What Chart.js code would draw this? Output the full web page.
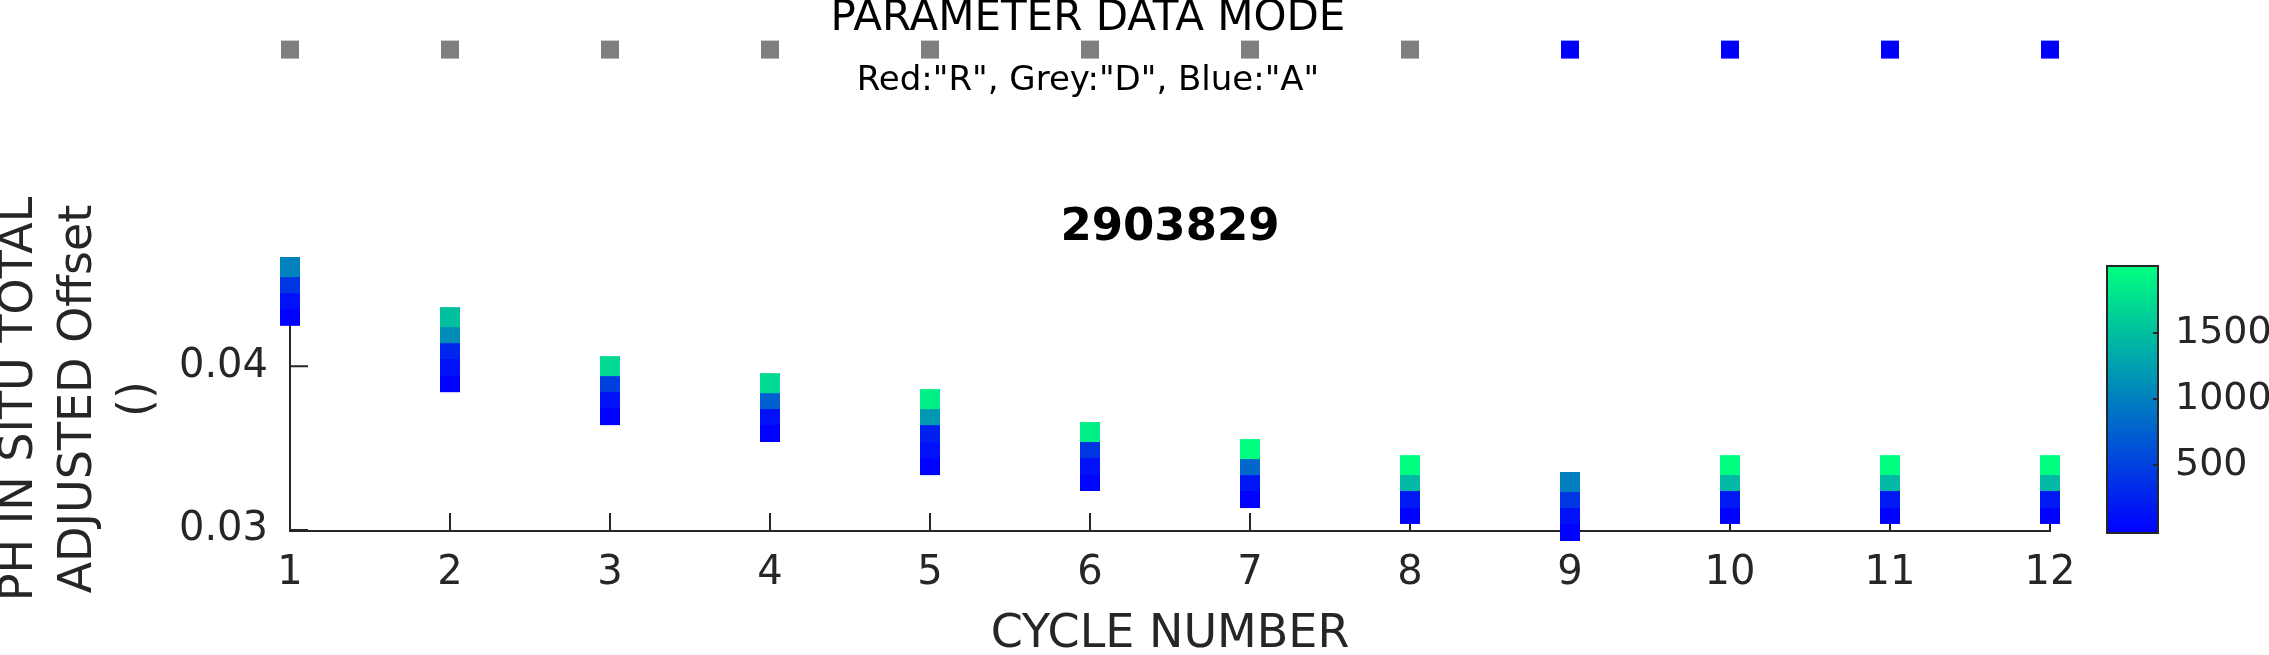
<!DOCTYPE html>
<html>
<head>
<meta charset="utf-8">
<script src="https://cdn.jsdelivr.net/npm/chart.js@4/dist/chart.umd.min.js"></script>
<style>
  html, body { margin: 0; padding: 0; background: #fff; }
  #wrap { position: relative; width: 2269px; height: 655px; }
  canvas { position: absolute; left: 0; top: 0; }
</style>
</head>
<body>
<div id="wrap">
  <canvas id="mainChart" width="2269" height="655"></canvas>
  <canvas id="modeChart" width="2176" height="102"></canvas>
</div>
<script>
// cycle numbers on the x axis
const cycleNumbers = [1, 2, 3, 4, 5, 6, 7, 8, 9, 10, 11, 12];

// PH offset per cycle, ordered from shallow to deep (draw order)
const offsetValues = [
  [0.04307, 0.04409, 0.04506, 0.04605],
  [0.03902, 0.04002, 0.04104, 0.04201, 0.04299],
  [0.03701, 0.03805, 0.03902, 0.04000],
  [0.03598, 0.03701, 0.03799, 0.03896],
  [0.03396, 0.03500, 0.03598, 0.03701, 0.03799],
  [0.03299, 0.03396, 0.03500, 0.03598],
  [0.03195, 0.03299, 0.03396, 0.03494],
  [0.03098, 0.03195, 0.03299, 0.03396],
  [0.02994, 0.03098, 0.03195, 0.03293],
  [0.03098, 0.03195, 0.03299, 0.03396],
  [0.03098, 0.03195, 0.03299, 0.03396],
  [0.03098, 0.03195, 0.03299, 0.03396]
];

// pressure (dbar) of every point above, used for the colour
const pressureValues = [
  [5, 125, 416, 1020],
  [5, 125, 290, 1098, 1506],
  [5, 125, 500, 1694],
  [5, 125, 753, 1700],
  [5, 125, 250, 1192, 1882],
  [40, 125, 416, 1880],
  [5, 165, 816, 2000],
  [5, 188, 1443, 2000],
  [5, 125, 416, 1004],
  [5, 188, 1443, 2000],
  [5, 188, 1443, 2000],
  [5, 188, 1443, 2000]
];

// parameter data mode per cycle
const dataModes = ['D', 'D', 'D', 'D', 'D', 'D', 'D', 'D', 'A', 'A', 'A', 'A'];

const yTickValues = [0.03, 0.04];
const colorbarTicks = [500, 1000, 1500];
const presMin = 0, presMax = 2000;

const axisColor = '#262626';
Chart.defaults.font.family = "'DejaVu Sans', sans-serif";
Chart.defaults.color = axisColor;

// MATLAB "winter" colormap
function winter(t) {
  t = Math.max(0, Math.min(1, t));
  return 'rgb(0,' + Math.round(255 * t) + ',' + Math.round(255 * (1 - t / 2)) + ')';
}
const modeColors = { R: '#ff0000', D: '#808080', A: '#0000ff' };

const points = [];
cycleNumbers.forEach((c, i) => {
  offsetValues[i].forEach((v, j) => {
    points.push({ x: c, y: v, p: pressureValues[i][j] });
  });
});

// fixed box sizes, no extra label padding pushed into the layout
function fixSize(w, h) {
  return s => {
    if (w !== null) s.width = w;
    if (h !== null) s.height = h;
    s.paddingTop = s.paddingBottom = s.paddingLeft = s.paddingRight = 0;
  };
}

// inward tick marks, drawn under the markers
const innerTicks = {
  id: 'innerTicks',
  beforeDatasetsDraw(chart) {
    const { ctx, scales: { x, y } } = chart;
    ctx.save();
    ctx.strokeStyle = axisColor;
    ctx.lineWidth = 2;
    ctx.beginPath();
    cycleNumbers.forEach(c => {
      const px = x.getPixelForValue(c);
      ctx.moveTo(px, y.bottom);
      ctx.lineTo(px, y.bottom - 18);
    });
    yTickValues.forEach(v => {
      const py = y.getPixelForValue(v);
      ctx.moveTo(x.left, py);
      ctx.lineTo(x.left + 18, py);
    });
    ctx.stroke();
    ctx.restore();
  }
};

// colour bar drawn next to its own scale
const colorBar = {
  id: 'colorBar',
  afterDraw(chart) {
    const { ctx } = chart;
    const s = chart.scales.cbar;
    const x0 = 2107, w = 51;
    const top = s.getPixelForValue(presMax) - 1, bot = s.getPixelForValue(presMin) + 2;
    ctx.save();
    const g = ctx.createLinearGradient(0, bot, 0, top);
    g.addColorStop(0, winter(0));
    g.addColorStop(1, winter(1));
    ctx.fillStyle = g;
    ctx.fillRect(x0, top, w, bot - top);
    ctx.strokeStyle = axisColor;
    ctx.lineWidth = 2;
    ctx.strokeRect(x0, top, w, bot - top);
    ctx.beginPath();
    colorbarTicks.forEach(v => {
      const py = s.getPixelForValue(v);
      ctx.moveTo(x0 + w, py);
      ctx.lineTo(x0 + w - 5, py);
    });
    ctx.stroke();
    ctx.restore();
  }
};

new Chart(document.getElementById('mainChart'), {
  type: 'scatter',
  data: {
    datasets: [{
      data: points,
      pointStyle: 'rect',
      pointRadius: 14.14,
      pointHoverRadius: 14.14,
      pointBorderWidth: 0,
      pointBackgroundColor: ctx => winter(ctx.raw.p / presMax),
      clip: false
    }]
  },
  options: {
    responsive: false,
    devicePixelRatio: 1,
    animation: false,
    events: [],
    layout: { padding: { top: 201, left: 0, right: 0, bottom: 0 } },
    plugins: {
      legend: { display: false },
      tooltip: { enabled: false },
      title: {
        display: true,
        text: '2903829',
        color: '#000',
        fullSize: false,
        font: { size: 45, weight: 'bold', lineHeight: 1.2 },
        padding: { top: 0, bottom: 12 }
      }
    },
    scales: {
      x: {
        type: 'linear',
        min: 1,
        max: 12,
        grid: { display: false, drawTicks: false },
        border: { display: true, color: axisColor, width: 2 },
        ticks: { stepSize: 1, autoSkip: false, maxRotation: 0, padding: 19, font: { size: 40, lineHeight: 1.2 }, color: axisColor },
        title: { display: true, text: 'CYCLE NUMBER', color: axisColor, font: { size: 46, lineHeight: 1 }, padding: { top: 0, bottom: -3 } },
        afterFit: fixSize(null, 124)
      },
      y: {
        type: 'linear',
        min: 0.02994,
        max: 0.04605,
        grid: { display: false, drawTicks: false },
        border: { display: true, color: axisColor, width: 2 },
        afterBuildTicks(s) { s.ticks = yTickValues.map(v => ({ value: v })); },
        ticks: { padding: 22, font: { size: 40 }, color: axisColor, callback: v => v.toFixed(2) },
        title: {
          display: true,
          text: ['PH IN SITU TOTAL', 'ADJUSTED Offset', '()'],
          color: axisColor,
          font: { size: 46, lineHeight: '59px' },
          padding: { top: -9.5, bottom: 0 }
        },
        afterFit: fixSize(290, null)
      },
      cbar: {
        type: 'linear',
        position: 'right',
        min: presMin,
        max: presMax,
        grid: { display: false, drawTicks: false },
        border: { display: false },
        afterBuildTicks(s) { s.ticks = colorbarTicks.map(v => ({ value: v })); },
        ticks: { padding: 125, font: { size: 38 }, color: axisColor, callback: v => String(v) },
        afterFit: fixSize(219, null)
      }
    }
  },
  plugins: [innerTicks, colorBar]
});

// parameter data mode strip on top
const blankAxis = (pos, w) => ({
  type: 'linear',
  position: pos,
  min: 0,
  max: 2,
  grid: { display: false, drawTicks: false },
  border: { display: false },
  ticks: { display: false },
  afterFit: fixSize(w, null)
});

new Chart(document.getElementById('modeChart'), {
  type: 'scatter',
  data: {
    datasets: [{
      data: cycleNumbers.map(c => ({ x: c, y: 1 })),
      pointStyle: 'rect',
      pointRadius: 12.73,
      pointHoverRadius: 12.73,
      pointBorderWidth: 0,
      pointBackgroundColor: dataModes.map(m => modeColors[m]),
      clip: false
    }]
  },
  options: {
    responsive: false,
    devicePixelRatio: 1,
    animation: false,
    events: [],
    layout: { padding: 0 },
    plugins: {
      legend: { display: false },
      tooltip: { enabled: false },
      title: {
        display: true,
        text: 'PARAMETER DATA MODE',
        color: '#000',
        font: { size: 42, weight: 'normal', lineHeight: '38px' },
        padding: 0
      },
      subtitle: {
        display: true,
        position: 'bottom',
        text: 'Red:"R", Grey:"D", Blue:"A"',
        color: '#000',
        font: { size: 34, lineHeight: 1.2 },
        padding: 0
      }
    },
    scales: {
      x: { type: 'linear', min: 1, max: 12, display: false },
      y: blankAxis('left', 290),
      yr: blankAxis('right', 126)
    }
  }
});
</script>
</body>
</html>
